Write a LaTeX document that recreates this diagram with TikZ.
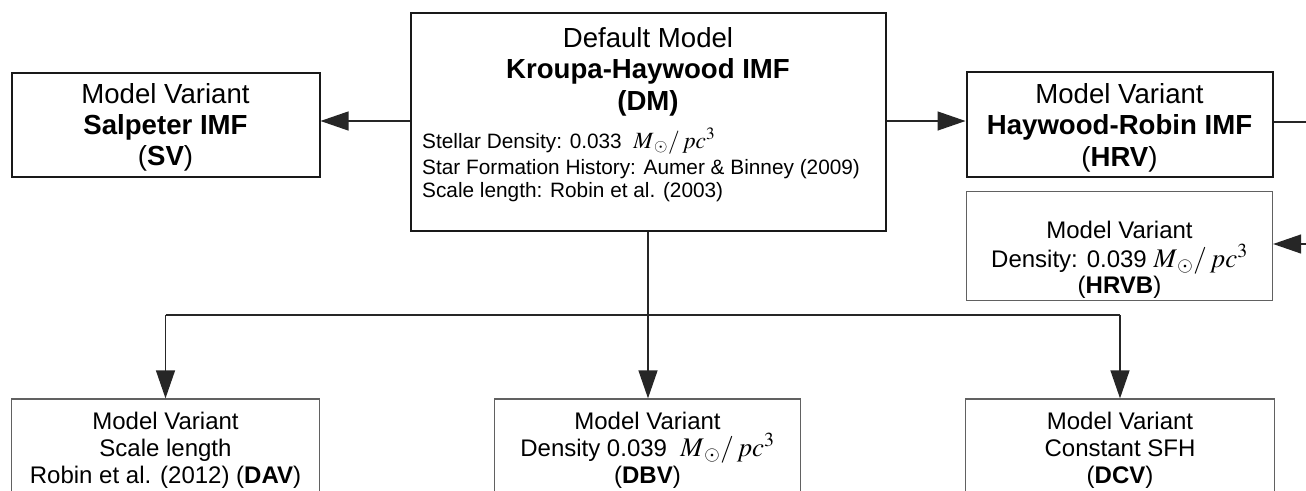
\documentclass[tikz,border=0pt]{standalone}
\usepackage{graphicx}
\usepackage{mathptmx}
\usepackage[no-math]{fontspec}
\setmainfont{Liberation Sans}
\usetikzlibrary{arrows.meta}

% solar masses per cubic parsec, set a little larger than the sans text
\newcommand{\msun}{\scalebox{1.12}{$M_{\,\odot}/\,pc^{3}$}}

\begin{document}
\begin{tikzpicture}[x=1pt,y=-1pt,
  thickbox/.style={draw=black!90, line width=2pt, inner sep=0pt},
  thinbox/.style={draw=black!62, line width=1.3pt, inner sep=0pt},
  wire/.style={draw=black!85, line width=1.3pt},
  arr/.style={wire, -{Triangle[length=28pt,width=19pt]}},
  big/.style={font=\fontsize{27.6}{31}\selectfont, anchor=base, inner sep=0pt},
  mid/.style={font=\fontsize{24}{27}\selectfont, anchor=base, inner sep=0pt},
  small/.style={font=\fontsize{20.8}{24}\selectfont, anchor=base west, inner sep=0pt},
]
\clip (0,0) rectangle (1306,490);
\fill[white] (0,0) rectangle (1306,490);

% boxes
\node[thickbox, minimum width=308pt, minimum height=104pt] (sv)   at (165.5,124.5) {};
\node[thickbox, minimum width=475pt, minimum height=218pt] (dm)   at (648,121.5) {};
\node[thickbox, minimum width=306pt, minimum height=105pt] (hrv)  at (1119.5,124) {};
\node[thinbox,  minimum width=306pt, minimum height=109pt] (hrvb) at (1119.5,246) {};
\node[thinbox,  minimum width=308pt, minimum height=122pt] (dav)  at (165.5,460) {};
\node[thinbox,  minimum width=306pt, minimum height=122pt] (dbv)  at (647.5,460) {};
\node[thinbox,  minimum width=309pt, minimum height=122pt] (dcv)  at (1120,460) {};

% default model
\node[big] (dmA) at (648,47)  {Default Model};
\node[big] (dmB) at (648,78)  {\bfseries Kroupa-Haywood IMF};
\node[big] (dmC) at (648,110) {\bfseries (DM)};
\node[small] (dmD) at (422,148) {Stellar Density: 0.033\ \ \msun};
\node[small] (dmE) at (422,174) {Star Formation History: Aumer \& Binney (2009)};
\node[small] (dmF) at (422,197) {Scale length: Robin et al. (2003)};

% Salpeter variant
\node[big] (svA) at (165.5,103) {Model Variant};
\node[big] (svB) at (165.5,134) {\bfseries Salpeter IMF};
\node[big] (svC) at (165.5,165) {(\textbf{SV})};

% Haywood-Robin variant
\node[big] (hrvA) at (1119.5,103) {Model Variant};
\node[big] (hrvB) at (1119.5,134) {\bfseries Haywood-Robin IMF};
\node[big] (hrvC) at (1119.5,166) {(\textbf{HRV})};

% Haywood-Robin density variant
\node[mid] (hrvbA) at (1119.5,238) {Model Variant};
\node[mid] (hrvbB) at (1119.5,267) {Density: 0.039 \msun};
\node[mid] (hrvbC) at (1119.5,293) {(\textbf{HRVB})};

% lower variants
\node[mid] (davA) at (165.5,429) {Model Variant};
\node[mid] (davB) at (165.5,456) {Scale length};
\node[mid] (davC) at (165.5,483) {Robin et al. (2012) (\textbf{DAV})};

\node[mid] (dbvA) at (647.5,429) {Model Variant};
\node[mid] (dbvB) at (647.5,456) {Density 0.039\ \ \msun};
\node[mid] (dbvC) at (647.5,483) {(\textbf{DBV})};

\node[mid] (dcvA) at (1120,429) {Model Variant};
\node[mid] (dcvB) at (1120,456) {Constant SFH};
\node[mid] (dcvC) at (1120,483) {(\textbf{DCV})};

% connectors
\draw[arr] (dm.west |- 0,121) -- (sv.east |- 0,121);
\draw[arr] (dm.east |- 0,121) -- (hrv.west |- 0,121);
\coordinate (outR) at (1330,122);
\draw[wire] (hrv.east |- outR) -- (outR);
\coordinate (inR) at (1330,244);
\draw[arr] (inR) -- (hrvb.east |- inR);

\draw[arr] (dm.south) -- (dm.south |- dbv.north);
\coordinate (fanL) at (dav.north |- 0,315);
\coordinate (fanR) at (dcv.north |- 0,315);
\draw[wire] (fanL) -- (fanR);
\draw[arr] (fanL) -- (dav.north);
\draw[arr] (fanR) -- (dcv.north);
\end{tikzpicture}
\end{document}
